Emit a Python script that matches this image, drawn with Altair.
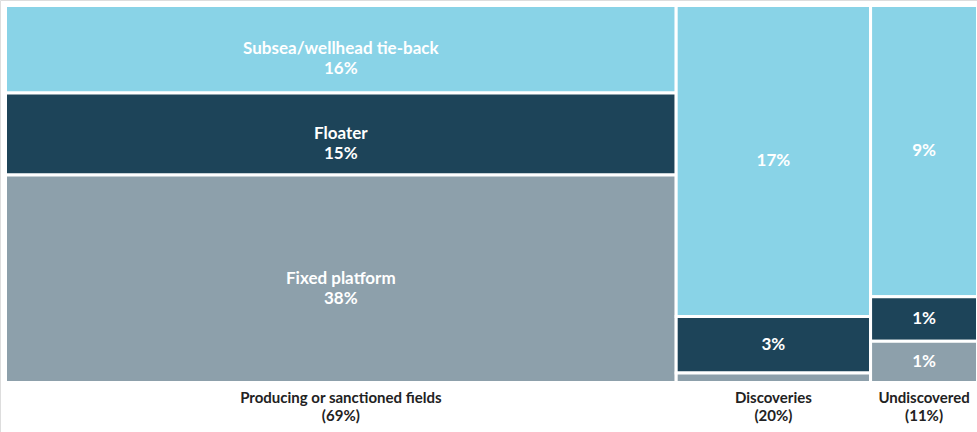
import altair as alt
import pandas as pd

categories = ["Producing or sanctioned fields", "Discoveries", "Undiscovered"]
category_labels = ["(69%)", "(20%)", "(11%)"]
segments = ["Subsea/wellhead tie-back", "Floater", "Fixed platform"]

# share of total (percent), per category, per segment (top to bottom)
values = {
    "Producing or sanctioned fields": [16, 15, 38],
    "Discoveries": [16.5, 3.0, 0.5],
    "Undiscovered": [8.5, 1.3, 1.2],
}
value_labels = {
    "Producing or sanctioned fields": ["16%", "15%", "38%"],
    "Discoveries": ["17%", "3%", ""],
    "Undiscovered": ["9%", "1%", "1%"],
}
colors = ["#89D3E7", "#1D4459", "#8DA0AB"]

rows = []
x0 = 0.0
for ci, cat in enumerate(categories):
    vals = values[cat]
    total = sum(vals)
    y0 = 0.0
    for si, seg in enumerate(segments):
        frac = vals[si] / total
        lab = value_labels[cat][si]
        if lab and ci == 0:
            text = seg + "\n" + lab
        else:
            text = lab
        rows.append({
            "category": cat, "segment": seg, "value": vals[si],
            "x": x0, "x2": x0 + total, "xm": x0 + total / 2,
            "y": y0, "y2": y0 + frac, "ym": y0 + frac / 2,
            "text": text,
        })
        y0 += frac
    x0 += total

df = pd.DataFrame(rows)
cat_df = df.groupby("category", sort=False).first().reset_index()
cat_df["label"] = [c + "\n" + l for c, l in zip(categories, category_labels)]

xs = alt.Scale(domain=[0, 100], range=[5.5, 977.5])
ys = alt.Scale(domain=[0, 1], range=[5.5, 382.5])

base = alt.Chart(df)

rects = base.mark_rect(stroke="white", strokeWidth=3).encode(
    x=alt.X("x:Q", scale=xs, axis=None),
    x2="x2:Q",
    y=alt.Y("y:Q", scale=ys, axis=None),
    y2="y2:Q",
    color=alt.Color("segment:N", scale=alt.Scale(domain=segments, range=colors), legend=None),
)

texts = base.mark_text(
    color="white", font="Lato", fontSize=17, fontWeight="bold",
    lineBreak="\n", lineHeight=20, baseline="middle", align="center",
).encode(
    x=alt.X("xm:Q", scale=xs),
    y=alt.Y("ym:Q", scale=ys),
    text="text:N",
)

bottom = alt.Chart(cat_df).mark_text(
    color="#222222", font="Lato", fontSize=15, fontWeight="bold",
    lineBreak="\n", lineHeight=18, baseline="middle", align="center",
).encode(
    x=alt.X("xm:Q", scale=xs),
    y=alt.value(398),
    text="label:N",
)

chart = alt.layer(rects, texts, bottom).properties(
    width=977, height=432,
    autosize=alt.AutoSizeParams(type="none"),
    padding=0,
).configure_view(stroke=None).configure(background="white")

chart.save("out.html", embed_options={"renderer": "svg", "actions": False})
